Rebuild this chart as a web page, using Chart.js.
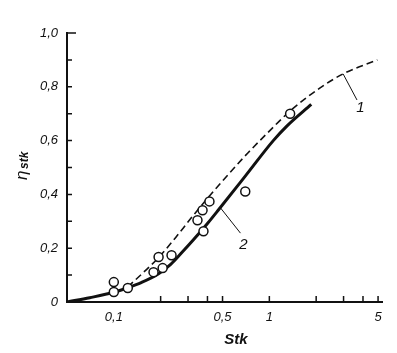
<!DOCTYPE html>
<html>
<head>
<meta charset="utf-8">
<script src="https://cdn.jsdelivr.net/npm/chart.js@4.4.1/dist/chart.umd.min.js"></script>
<style>
  html, body { margin: 0; padding: 0; background: #fff; }
  #wrap { width: 397px; height: 353px; }
</style>
</head>
<body>
<div id="wrap"><canvas id="chart" width="397" height="353"></canvas></div>
<script>
// curve 1 (dashed)
const curve1Stk = [0.123, 0.155, 0.194, 0.25, 0.312, 0.42, 0.5, 0.63, 0.73, 0.96, 1.36, 2.12, 2.98, 4.95];
const curve1Eta = [0.056, 0.11, 0.165, 0.24, 0.31, 0.40, 0.45, 0.515, 0.555, 0.625, 0.71, 0.796, 0.848, 0.90];

// curve 2 (solid)
const curve2Stk = [0.05, 0.07, 0.1, 0.123, 0.15, 0.194, 0.232, 0.27, 0.326, 0.4, 0.47, 0.7, 1.06, 1.3, 1.86];
const curve2Eta = [0.0, 0.016, 0.036, 0.053, 0.072, 0.105, 0.14, 0.18, 0.232, 0.292, 0.342, 0.468, 0.60, 0.655, 0.735];

// measured points
const pointStk = [0.1, 0.1, 0.123, 0.18, 0.194, 0.206, 0.235, 0.345, 0.372, 0.412, 0.377, 0.70, 1.36];
const pointEta = [0.074, 0.037, 0.052, 0.111, 0.167, 0.126, 0.174, 0.304, 0.341, 0.374, 0.263, 0.411, 0.70];

// axis ticks
const xLabelTicks = [0.1, 0.5, 1, 5];
const xMarkTicks = [0.2, 0.3, 0.4, 0.5, 1, 2, 3, 4, 5];
const yLabelStep = 0.2;
const yMarkTicks = [0.1, 0.2, 0.3, 0.4, 0.5, 0.6, 0.7, 0.8, 0.9, 1.0];

// curve labels with leader lines (from, to, text position)
const curveNotes = [
  { text: '1', from: [2.98, 0.848], to: [3.66, 0.751], at: [3.85, 0.72] },
  { text: '2', from: [0.485, 0.35], to: [0.652, 0.256], at: [0.68, 0.212] }
];

const toXY = (xs, ys) => xs.map((x, i) => ({ x: x, y: ys[i] }));
const comma = v => String(v).replace('.', ',');

const FONT = "'Liberation Sans', Arial, sans-serif";

// inward ticks, axis titles and curve labels
const decorPlugin = {
  id: 'decor',
  afterDraw(chart) {
    const ctx = chart.ctx;
    const xs = chart.scales.x;
    const ys = chart.scales.y;
    const left = chart.chartArea.left;
    const bottom = chart.chartArea.bottom;

    ctx.save();
    ctx.strokeStyle = '#111';
    ctx.lineWidth = 1.5;
    ctx.beginPath();
    yMarkTicks.forEach(v => {
      const py = ys.getPixelForValue(v);
      ctx.moveTo(left, py);
      ctx.lineTo(left + (v === 1.0 ? 9 : 5), py);
    });
    xMarkTicks.forEach(v => {
      const px = xs.getPixelForValue(v);
      ctx.moveTo(px, bottom);
      ctx.lineTo(px, bottom - 6);
    });
    ctx.stroke();

    // leader lines + labels
    ctx.lineWidth = 1;
    ctx.fillStyle = '#111';
    ctx.font = 'italic 15px ' + FONT;
    ctx.textAlign = 'center';
    ctx.textBaseline = 'middle';
    curveNotes.forEach(n => {
      ctx.beginPath();
      ctx.moveTo(xs.getPixelForValue(n.from[0]), ys.getPixelForValue(n.from[1]));
      ctx.lineTo(xs.getPixelForValue(n.to[0]), ys.getPixelForValue(n.to[1]));
      ctx.stroke();
      ctx.fillText(n.text, xs.getPixelForValue(n.at[0]), ys.getPixelForValue(n.at[1]));
    });

    // y title: η_stk rotated
    ctx.save();
    ctx.translate(22, 162);
    ctx.rotate(-Math.PI / 2);
    ctx.textAlign = 'left';
    ctx.font = 'italic 17px ' + FONT;
    ctx.fillText('η', -18, 0);
    ctx.font = 'italic bold 12px ' + FONT;
    ctx.fillText('stk', -7, 3);
    ctx.restore();

    // x title
    ctx.font = 'italic bold 15px ' + FONT;
    ctx.textAlign = 'center';
    ctx.fillText('Stk', 236, 340);
    ctx.restore();
  }
};

new Chart(document.getElementById('chart'), {
  type: 'scatter',
  data: {
    datasets: [
      {
        label: 'points',
        data: toXY(pointStk, pointEta),
        showLine: false,
        pointRadius: 4.5,
        pointBackgroundColor: '#fff',
        pointBorderColor: '#111',
        pointBorderWidth: 1.5,
        order: 0
      },
      {
        label: '1',
        data: toXY(curve1Stk, curve1Eta),
        showLine: true,
        borderColor: '#111',
        borderWidth: 1.6,
        borderDash: [7, 4],
        pointRadius: 0,
        cubicInterpolationMode: 'monotone',
        order: 1
      },
      {
        label: '2',
        data: toXY(curve2Stk, curve2Eta),
        showLine: true,
        borderColor: '#111',
        borderWidth: 3,
        pointRadius: 0,
        cubicInterpolationMode: 'monotone',
        order: 2
      }
    ]
  },
  options: {
    responsive: false,
    animation: false,
    layout: { padding: { top: 33, right: 15, left: 0, bottom: 0 } },
    plugins: { legend: { display: false }, tooltip: { enabled: false } },
    scales: {
      x: {
        type: 'logarithmic',
        min: 0.05,
        max: 5.3,
        grid: { display: false, drawTicks: false },
        border: { display: true, color: '#111', width: 2 },
        afterBuildTicks: s => { s.ticks = xLabelTicks.map(v => ({ value: v })); },
        afterFit: s => { s.height = 51; },
        ticks: {
          padding: 8,
          color: '#111',
          font: { family: FONT, size: 13, style: 'italic' },
          callback: v => comma(v)
        }
      },
      y: {
        min: 0,
        max: 1,
        grid: { display: false, drawTicks: false },
        border: { display: true, color: '#111', width: 2 },
        afterFit: s => { s.width = 67; },
        ticks: {
          stepSize: yLabelStep,
          padding: 9,
          color: '#111',
          font: { family: FONT, size: 13, style: 'italic' },
          callback: v => (v === 0 ? '0' : comma(v.toFixed(1)))
        }
      }
    }
  },
  plugins: [decorPlugin]
});
</script>
</body>
</html>
